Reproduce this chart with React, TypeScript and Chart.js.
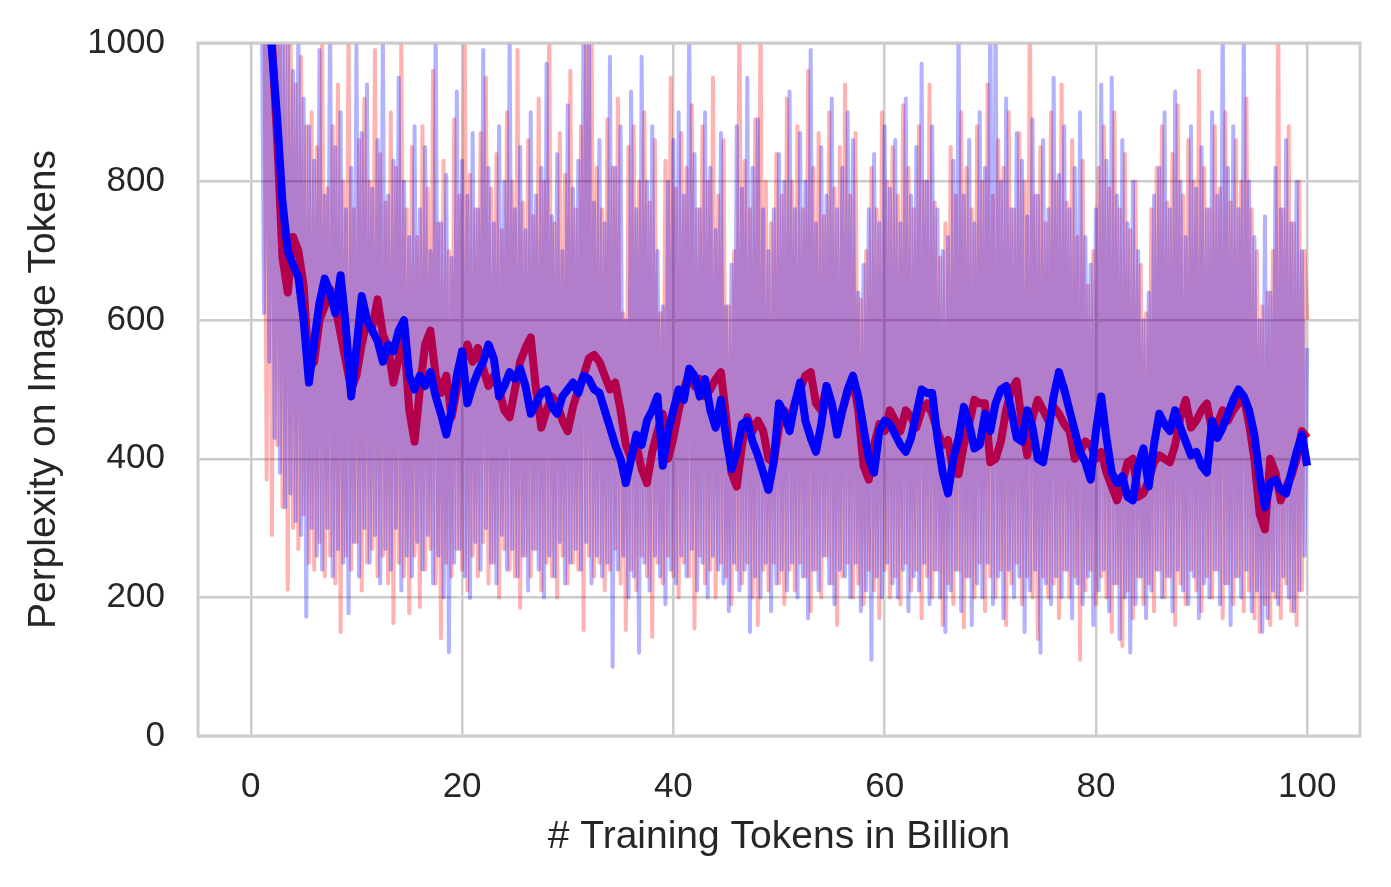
import { useEffect, useRef } from "react";
import { Chart, registerables, type Plugin } from "chart.js";

Chart.register(...registerables);

// raw (noisy) series: sampled every 0.25B tokens starting at 1.0
const rawStart = 1;
const rawStep = 0.25;
// smoothed series: every 0.5B tokens starting at 1.5
const smoothStart = 1.5;
const smoothStep = 0.5;

const xTicks = [0, 20, 40, 60, 80, 100];
const yTicks = [0, 200, 400, 600, 800, 1000];

const blueRaw = [
  1150, 610, 1250, 540, 1200, 430, 1150, 380, 1080, 330, 1020, 350, 960, 310, 1040, 290, 920, 172, 880, 300,
  830, 260, 990, 240, 780, 300, 1050, 230, 850, 270, 900, 250, 760, 177, 820, 280, 1000, 230, 870, 300,
  940, 250, 790, 290, 860, 220, 1020, 270, 780, 240, 830, 300, 950, 210, 800, 260, 720, 230, 880, 280,
  760, 240, 850, 290, 700, 220, 1040, 260, 740, 200, 810, 121, 690, 250, 930, 270, 830, 230, 780, 199,
  870, 280, 760, 240, 990, 300, 820, 250, 740, 220, 880, 290, 800, 240, 1020, 270, 760, 230, 850, 260,
  730, 210, 900, 270, 780, 240, 820, 200, 970, 260, 750, 230, 840, 280, 700, 220, 910, 250, 790, 270,
  830, 240, 1080, 280, 1050, 220, 770, 260, 860, 230, 740, 250, 980, 100, 820, 240, 880, 260, 600, 200,
  930, 230, 760, 120, 980, 250, 800, 210, 880, 260, 700, 230, 620, 190, 800, 240, 860, 220, 900, 260,
  780, 230, 1060, 270, 840, 210, 760, 250, 900, 200, 820, 260, 730, 240, 870, 220, 620, 180, 680, 250,
  880, 210, 790, 240, 950, 150, 820, 230, 890, 200, 760, 250, 700, 180, 760, 220, 840, 240, 800, 210,
  930, 250, 760, 200, 870, 230, 800, 170, 990, 240, 740, 210, 850, 260, 780, 220, 920, 190, 760, 240,
  820, 230, 900, 200, 860, 250, 640, 180, 680, 210, 760, 110, 840, 230, 740, 200, 880, 250, 790, 220,
  860, 200, 740, 240, 920, 180, 780, 230, 850, 210, 970, 250, 800, 190, 880, 240, 760, 200, 700, 150,
  720, 210, 830, 240, 1050, 180, 780, 230, 860, 160, 740, 220, 900, 200, 820, 250, 1080, 190, 1060, 230,
  800, 170, 920, 240, 760, 200, 870, 230, 830, 150, 750, 210, 890, 240, 780, 120, 860, 220, 760, 190,
  950, 230, 810, 200, 880, 240, 760, 170, 820, 220, 900, 190, 720, 230, 680, 160, 760, 210, 940, 240,
  830, 180, 950, 220, 780, 140, 860, 200, 740, 120, 800, 190, 700, 230, 600, 170, 640, 210, 780, 240,
  820, 200, 900, 230, 760, 180, 930, 240, 800, 210, 720, 190, 880, 230, 790, 170, 850, 220, 760, 200,
  900, 240, 780, 190, 1060, 220, 820, 160, 880, 230, 760, 200, 1040, 240, 800, 180, 720, 210, 600, 150,
  750, 170, 640, 210, 820, 190, 760, 230, 860, 200, 740, 180, 800, 210, 700, 260, 560,
];

const redRaw = [
  null, 1200, 370, 1300, 290, 1150, 420, 1080, 330, 1000, 211, 1050, 300, 940, 270, 980, 320, 880, 250, 900,
  240, 850, 280, 1020, 230, 790, 260, 880, 220, 940, 150, 800, 260, 1040, 240, 760, 280, 860, 210, 920,
  250, 800, 270, 990, 230, 840, 260, 770, 220, 900, 163, 820, 250, 1010, 230, 760, 177, 850, 260, 720,
  186, 880, 240, 790, 270, 960, 220, 740, 141, 830, 250, 700, 230, 890, 270, 780, 240, 1030, 210, 810,
  260, 760, 230, 870, 280, 950, 220, 790, 250, 840, 200, 730, 270, 900, 240, 800, 230, 990, 185, 770,
  260, 860, 230, 750, 270, 920, 210, 800, 250, 1050, 230, 740, 200, 870, 260, 810, 220, 960, 250, 760,
  240, 880, 153, 1100, 260, 1060, 230, 820, 250, 760, 210, 890, 240, 820, 270, 920, 220, 610, 153, 850,
  240, 880, 210, 800, 260, 900, 230, 770, 143, 860, 250, 610, 220, 830, 260, 950, 230, 790, 200, 870,
  250, 820, 230, 910, 155, 760, 260, 880, 220, 800, 240, 950, 200, 780, 250, 860, 230, 620, 190, 700,
  240, 1080, 220, 830, 250, 760, 200, 890, 160, 1070, 240, 800, 210, 740, 250, 840, 220, 780, 190, 920,
  240, 800, 210, 880, 250, 760, 230, 960, 180, 820, 240, 870, 200, 750, 260, 900, 220, 790, 160, 850,
  230, 940, 250, 780, 200, 870, 220, 630, 190, 700, 240, 820, 210, 760, 170, 900, 240, 800, 200, 850,
  230, 780, 190, 910, 250, 820, 210, 760, 240, 880, 170, 800, 230, 940, 200, 770, 240, 690, 160, 740,
  220, 850, 190, 780, 240, 900, 157, 820, 230, 760, 200, 880, 250, 800, 180, 940, 230, 780, 200, 860,
  240, 820, 160, 900, 220, 760, 250, 870, 190, 800, 230, 1080, 200, 780, 140, 850, 230, 740, 200, 900,
  220, 800, 170, 940, 240, 770, 200, 860, 230, 720, 110, 830, 210, 650, 240, 700, 190, 820, 230, 880,
  200, 790, 150, 900, 220, 760, 130, 840, 210, 730, 170, 800, 230, 680, 190, 610, 220, 760, 180, 820,
  240, 880, 200, 770, 230, 840, 160, 910, 220, 780, 190, 860, 240, 800, 210, 960, 180, 820, 230, 760,
  200, 880, 240, 790, 170, 900, 220, 770, 190, 860, 230, 800, 180, 920, 210, 760, 170, 700, 150, 620,
  190, 640, 160, 700, 200, 1100, 170, 760, 220, 880, 180, 740, 160, 800, 210, 700, 600,
];

const blueSmooth = [
  1080, 990, 890, 770, 700, 680, 662, 600, 510, 570,
  625, 660, 640, 610, 665, 590, 490, 560, 635, 600,
  585, 570, 540, 565, 555, 585, 600, 520, 500, 520,
  505, 525, 490, 465, 435, 470, 520, 555, 480, 505,
  525, 540, 565, 545, 490, 505, 525, 515, 530, 505,
  465, 480, 495, 500, 475, 465, 490, 500, 510, 495,
  520, 515, 500, 495, 470, 445, 420, 400, 365, 400,
  435, 420, 455, 470, 490, 390, 440, 470, 500, 485,
  530, 520, 490, 515, 470, 445, 485, 430, 385, 410,
  450, 455, 425, 405, 380, 355, 395, 480, 465, 440,
  480, 510, 455, 430, 410, 450, 505, 480, 435, 470,
  500, 520, 490, 445, 400, 380, 440, 455, 450, 435,
  420, 410, 430, 465, 500, 495, 495, 430, 380, 350,
  400, 430, 475, 450, 415, 420, 465, 440, 480, 500,
  505, 470, 430, 425, 470, 445, 400, 395, 440, 490,
  525, 500, 470, 440, 410, 395, 370, 440, 490, 430,
  380, 365, 375, 345, 340, 390, 415, 360, 420, 465,
  450, 440, 470, 445, 425, 405, 410, 390, 380, 455,
  430, 445, 465, 485, 500, 490, 470, 435, 375, 330,
  365, 370, 355, 350, 380, 410, 435, 390,
];

const redSmooth = [
  1100, 1000, 860, 690, 640, 720, 700, 650, 530, 540,
  600, 620, 645, 620, 580, 540, 500, 520, 565, 600,
  590, 630, 580, 560, 510, 545, 575, 470, 425, 500,
  565, 585, 520, 495, 520, 460, 500, 535, 565, 540,
  560, 530, 505, 520, 500, 470, 460, 500, 540, 560,
  575, 500, 445, 470, 490, 480, 455, 440, 475, 500,
  520, 545, 550, 540, 520, 500, 510, 470, 420, 400,
  420, 385, 365, 410, 440, 465, 400, 430, 470, 500,
  525, 505, 515, 490, 500, 515, 525, 460, 380, 360,
  420, 460, 440, 455, 440, 400, 395, 445, 470, 455,
  480, 500, 520, 525, 480, 470, 505, 475, 450, 470,
  495, 515, 470, 390, 370, 420, 450, 440, 470, 455,
  440, 470, 460, 445, 470, 480, 465, 440, 420, 427,
  380, 378, 420, 450, 485, 480, 480, 395, 400, 425,
  470, 500, 512, 450, 405, 460, 485, 470, 455, 475,
  465, 450, 440, 400, 410, 425, 420, 400, 410, 380,
  360, 340, 365, 395, 400, 345, 350, 370, 395, 405,
  400, 395, 420, 460, 485, 445, 455, 470, 480, 440,
  450, 470, 455, 470, 480, 489, 450, 400, 320, 298,
  400, 380, 340, 360, 375, 400, 440, 430,
];

const FONT = "'Liberation Sans', Arial, sans-serif";
const TEXT = "#262626";
const GRID = "#cccccc";

const toPoints = (vals: (number | null)[], start: number, step: number) =>
  vals.map((y, i) => ({ x: start + i * step, y }));

const frame: Plugin<"line"> = {
  id: "frame",
  afterDatasetsDraw(chart) {
    const { ctx, chartArea: a } = chart;
    ctx.save();
    ctx.strokeStyle = GRID;
    ctx.lineWidth = 3;
    ctx.strokeRect(a.left, a.top, a.right - a.left, a.bottom - a.top);
    ctx.restore();
  },
};

const App = () => {
  const canvasRef = useRef<HTMLCanvasElement | null>(null);

  useEffect(() => {
    if (!canvasRef.current) return;
    const lineBase = {
      pointRadius: 0,
      tension: 0,
      borderJoinStyle: "round" as const,
      borderCapStyle: "butt" as const,
      spanGaps: false,
    };
    const chart = new Chart(canvasRef.current, {
      type: "line",
      data: {
        datasets: [
          // first dataset is drawn on top
          {
            ...lineBase,
            label: "blue smoothed",
            data: toPoints(blueSmooth, smoothStart, smoothStep),
            borderColor: "#0000ff",
            borderWidth: 8,
          },
          {
            ...lineBase,
            label: "blue raw",
            data: toPoints(blueRaw, rawStart, rawStep),
            borderColor: "rgba(0, 0, 255, 0.3)",
            borderWidth: 4,
          },
          {
            ...lineBase,
            label: "red smoothed",
            data: toPoints(redSmooth, smoothStart, smoothStep),
            borderColor: "#ff0000",
            borderWidth: 8,
          },
          {
            ...lineBase,
            label: "red raw",
            data: toPoints(redRaw, rawStart, rawStep),
            borderColor: "rgba(255, 0, 0, 0.3)",
            borderWidth: 4,
          },
        ],
      },
      options: {
        animation: false,
        responsive: true,
        maintainAspectRatio: false,
        events: [],
        layout: { padding: { left: 0, right: 31, top: 43, bottom: 0 } },
        plugins: {
          legend: { display: false },
          tooltip: { enabled: false },
        },
        scales: {
          x: {
            type: "linear",
            min: -5,
            max: 105,
            afterBuildTicks: (s) => {
              s.ticks = xTicks.map((v) => ({ value: v }));
            },
            afterFit: (s) => {
              s.height = 151;
            },
            grid: { color: GRID, lineWidth: 2.5, drawTicks: false },
            border: { display: false },
            ticks: {
              color: TEXT,
              font: { family: FONT, size: 35 },
              padding: 30,
              maxRotation: 0,
              callback: (v) => String(v),
            },
            title: {
              display: true,
              text: "# Training Tokens in Billion",
              color: TEXT,
              font: { family: FONT, size: 39 },
              padding: { top: 0, bottom: 26 },
            },
          },
          y: {
            type: "linear",
            min: 0,
            max: 1000,
            afterBuildTicks: (s) => {
              s.ticks = yTicks.map((v) => ({ value: v }));
            },
            afterFit: (s) => {
              s.width = 198;
              // keep the tick padding from pushing the plot top down
              s.paddingTop = 0;
              s.paddingBottom = 0;
            },
            grid: { color: GRID, lineWidth: 2.5, drawTicks: false },
            border: { display: false },
            ticks: {
              color: TEXT,
              font: { family: FONT, size: 35 },
              padding: 33,
              callback: (v) => String(v),
            },
            title: {
              display: true,
              text: "Perplexity on Image Tokens",
              color: TEXT,
              font: { family: FONT, size: 39 },
              padding: { top: 21, bottom: 0 },
            },
          },
        },
      },
      plugins: [frame],
    });
    return () => {
      chart.destroy();
    };
  }, []);

  return (
    <div style={{ position: "fixed", left: 0, top: 0, width: 1391, height: 887, background: "#fff" }}>
      <canvas ref={canvasRef}></canvas>
    </div>
  );
};

export default App;
